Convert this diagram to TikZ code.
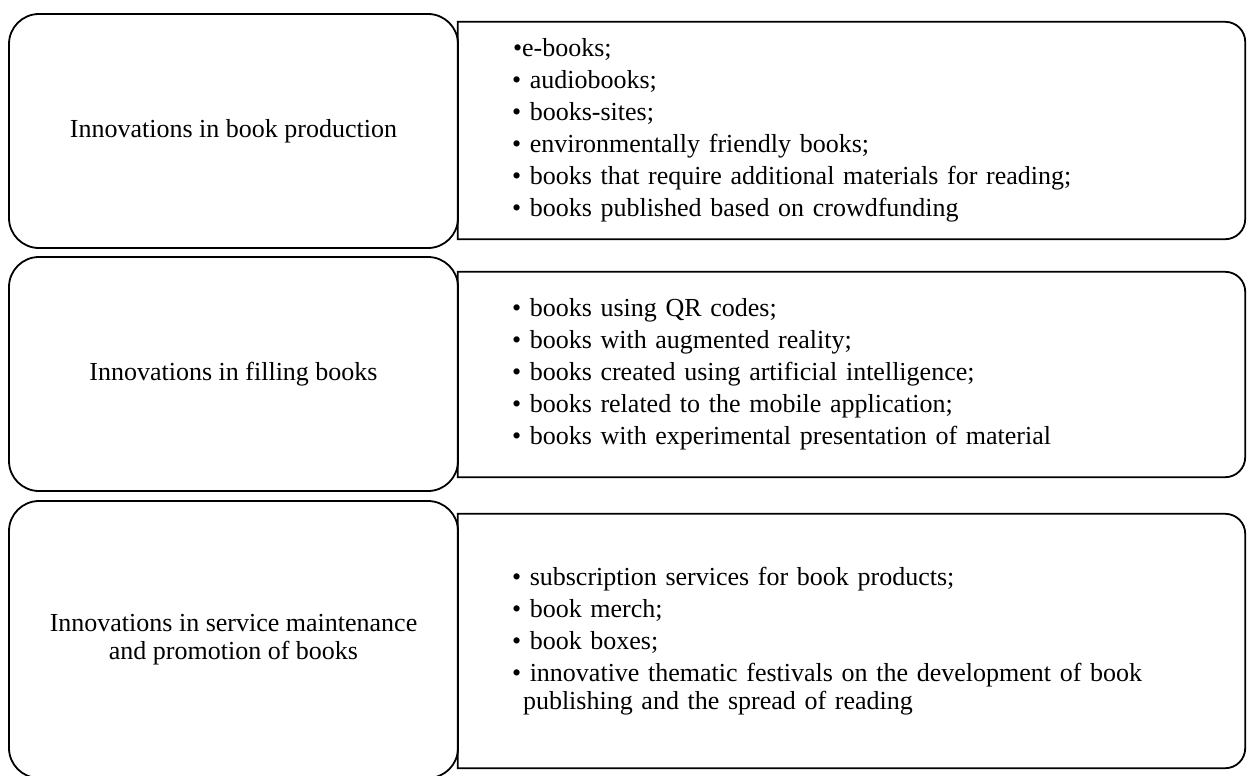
\documentclass[tikz,border=0pt]{standalone}
\usepackage{fontspec}
\setmainfont{Liberation Serif}
\usepackage{tikz}
\usetikzlibrary{positioning}

\tikzset{
  boxline/.style={line width=1.8pt, black},
  groupbox/.style={boxline, draw, rectangle, rounded corners=30pt, align=center,
    minimum width=449pt, inner sep=0pt, font=\fontsize{26}{28}\selectfont},
  listbox/.style={rectangle, align=left, inner xsep=54pt, inner ysep=0pt,
    text width=679pt, minimum width=787pt, font=\fontsize{26}{28}\selectfont}
}

% right-hand boxes: square on the left, rounded on the right
\newcommand{\halfround}[1]{%
  \draw[boxline] (#1.south west) -- (#1.north west)
    -- ([xshift=-20pt]#1.north east) arc[start angle=90, end angle=0, radius=20pt]
    -- ([yshift=20pt]#1.south east) arc[start angle=0, end angle=-90, radius=20pt]
    -- cycle;}

\begin{document}
\begin{tikzpicture}[x=1pt, y=-1pt]
    \useasboundingbox (0,0) rectangle (1247,776);

    % lists
    \node (r1) at (851.5,130.5) [listbox, minimum height=217pt] {%
        \hspace*{1pt}•e-books;\\[4pt]
        • audiobooks;\\[4pt]
        • books-sites;\\[4pt]
        • environmentally friendly books;\\[4pt]
        • books that require additional materials for reading;\\[4pt]
        • books published based on crowdfunding};
    \node (r2) at (851.5,374.5) [listbox, minimum height=205pt] {%
        • books using QR codes;\\[4pt]
        • books with augmented reality;\\[4pt]
        • books created using artificial intelligence;\\[4pt]
        • books related to the mobile application;\\[4pt]
        • books with experimental presentation of material};
    \node (r3) at (851.5,641) [listbox, minimum height=254pt] {%
        • subscription services for book products;\\[4pt]
        • book merch;\\[4pt]
        • book boxes;\\[4pt]
        • innovative thematic festivals on the development of book\\
        \hspace*{11pt}publishing and the spread of reading};

    \foreach \r in {r1, r2, r3} {\halfround{\r}}

    % groups
    \node (g1) at (233.5,131) [groupbox, minimum height=234pt] {Innovations in book production};
    \node (g2) at (233.5,374) [groupbox, minimum height=234pt] {Innovations in filling books};
    \node (g3) at (233.5,639.5) [groupbox, minimum height=277pt] {Innovations in service maintenance\\and promotion of books};
\end{tikzpicture}
\end{document}
